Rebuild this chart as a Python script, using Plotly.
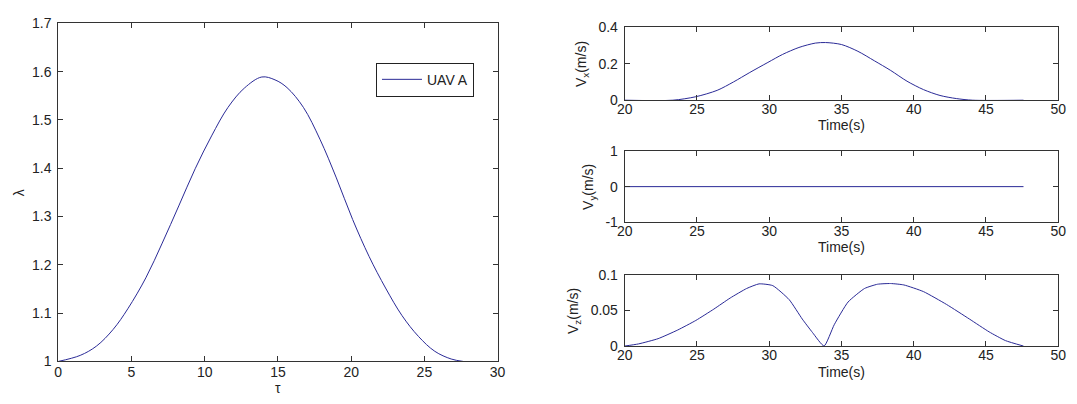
import plotly.graph_objects as go

# ---- data ----
tau = [0, 1.5, 2.62, 3.74, 4.75, 5.98, 7.1, 8.23, 9.35, 10.47, 11.59, 12.71,
       13.9, 14.8, 15.62, 16.74, 17.87, 18.99, 20.1, 21.23, 22.35, 23.47, 24.59,
       25.71, 26.83, 27.65]
lam = [1.0, 1.0125, 1.032, 1.066, 1.109, 1.173, 1.245, 1.322, 1.399, 1.467, 1.526,
       1.566, 1.589, 1.583, 1.567, 1.526, 1.46, 1.38, 1.294, 1.217, 1.152, 1.095,
       1.052, 1.021, 1.005, 1.0]

t_vx = [20, 23.33, 24.92, 26.4, 27.53, 28.66, 29.91, 30.93, 32.06, 33.2, 33.9,
        35.01, 36.14, 37.28, 38.41, 39.54, 40.68, 41.82, 42.95, 44.08, 47.6]
vx = [0.0, 0.0, 0.019, 0.054, 0.1, 0.152, 0.207, 0.251, 0.289, 0.313, 0.316,
      0.305, 0.268, 0.216, 0.163, 0.104, 0.058, 0.026, 0.009, 0.0, 0.0]

t_vy = [20, 47.6]
vy = [0, 0]

t_vz = [20, 20.95, 22.31, 23.67, 24.92, 26.17, 27.3, 28.44, 29.3, 30.25, 31.38,
        32.29, 33.0, 33.8, 34.5, 35.46, 36.6, 37.5, 38.4, 39.32, 40.68, 42.27,
        43.86, 45.22, 46.35, 47.6]
vz = [0.0, 0.003, 0.0104, 0.0226, 0.036, 0.052, 0.0676, 0.081, 0.0875, 0.085,
      0.0654, 0.038, 0.019, 0.0, 0.03, 0.062, 0.081, 0.087, 0.088, 0.086, 0.0766,
      0.0586, 0.038, 0.020, 0.0077, 0.0]

LINE = "#2a2a96"
AX = "#333333"
FONT = "Liberation Sans, Arial, sans-serif"
FS = 14

fig = go.Figure()
fig.add_trace(go.Scatter(x=tau, y=lam, mode="lines", name="UAV A",
                         line=dict(color=LINE, width=1, shape="spline", smoothing=1.0),
                         xaxis="x", yaxis="y"))
fig.add_trace(go.Scatter(x=t_vx, y=vx, mode="lines", showlegend=False,
                         line=dict(color=LINE, width=1, shape="spline", smoothing=0.8),
                         xaxis="x2", yaxis="y2"))
fig.add_trace(go.Scatter(x=t_vy, y=vy, mode="lines", showlegend=False,
                         line=dict(color=LINE, width=1),
                         xaxis="x3", yaxis="y3"))
fig.add_trace(go.Scatter(x=t_vz, y=vz, mode="lines", showlegend=False,
                         line=dict(color=LINE, width=1, shape="spline", smoothing=0.5),
                         xaxis="x4", yaxis="y4"))

def ax(domain, rng, dtick=None, anchor=None, tickvals=None, ticktext=None, standoff=0):
    d = dict(domain=domain, range=rng, showgrid=False, zeroline=False,
             showline=True, linecolor=AX, linewidth=1, mirror="allticks",
             ticks="inside", ticklen=5, tickcolor=AX, tickwidth=1,
             ticklabelstandoff=standoff,
             tickfont=dict(family=FONT, size=FS, color="#222"), anchor=anchor)
    if dtick is not None:
        d["dtick"] = dtick
        d["tick0"] = rng[0]
    if tickvals is not None:
        d["tickmode"] = "array"
        d["tickvals"] = tickvals
        d["ticktext"] = ticktext
    return d

L = [51 / 1077, 497 / 1077]
R = [626 / 1077, 1066 / 1077]
def yd(top, bot):
    return [1 - bot / 404, 1 - top / 404]

fig.update_layout(
    width=1077, height=404, margin=dict(l=0, r=0, t=0, b=0),
    paper_bgcolor="white", plot_bgcolor="white",
    font=dict(family=FONT, size=FS, color="#222"),
    xaxis=ax(L, [0, 30], 5, "y", standoff=-2),
    yaxis=ax(yd(16, 368), [1, 1.7], 0.1, "x", standoff=3),
    xaxis2=ax(R, [20, 50], 5, "y2", standoff=-4),
    yaxis2=ax(yd(20, 96), [0, 0.4], 0.2, "x2", standoff=3),
    xaxis3=ax(R, [20, 50], 5, "y3", standoff=-4),
    yaxis3=ax(yd(149, 223), [-1, 1], anchor="x3", tickvals=[-1, 0, 1],
              ticktext=["-1", "0", "1"], standoff=3),
    xaxis4=ax(R, [20, 50], 5, "y4", standoff=-4),
    yaxis4=ax(yd(278, 352), [0, 0.1], 0.05, "x4", standoff=3),
    showlegend=True,
    legend=dict(x=473 / 1077, y=1 - 57 / 404, xanchor="right", yanchor="top",
                bordercolor="#222", borderwidth=1, bgcolor="white",
                font=dict(family=FONT, size=FS, color="#222"),
                itemwidth=40, tracegroupgap=0),
)

ann = [
    dict(text="λ", x=12 / 1077, y=1 - 192 / 404, textangle=-90),
    dict(text="τ", x=274 / 1077, y=1 - 396 / 404),
    dict(text="V<sub>x</sub>(m/s)", x=582 / 1077, y=1 - 58 / 404, textangle=-90),
    dict(text="Time(s)", x=846 / 1077, y=1 - 122 / 404),
    dict(text="V<sub>y</sub>(m/s)", x=589 / 1077, y=1 - 186 / 404, textangle=-90),
    dict(text="Time(s)", x=846 / 1077, y=1 - 249 / 404),
    dict(text="V<sub>z</sub>(m/s)", x=574 / 1077, y=1 - 315 / 404, textangle=-90),
    dict(text="Time(s)", x=846 / 1077, y=1 - 379 / 404),
]
for a in ann:
    fig.add_annotation(xref="paper", yref="paper", showarrow=False,
                       xanchor="center", yanchor="middle",
                       font=dict(family=FONT, size=FS, color="#222"), **a)

fig.write_html("out.html")
